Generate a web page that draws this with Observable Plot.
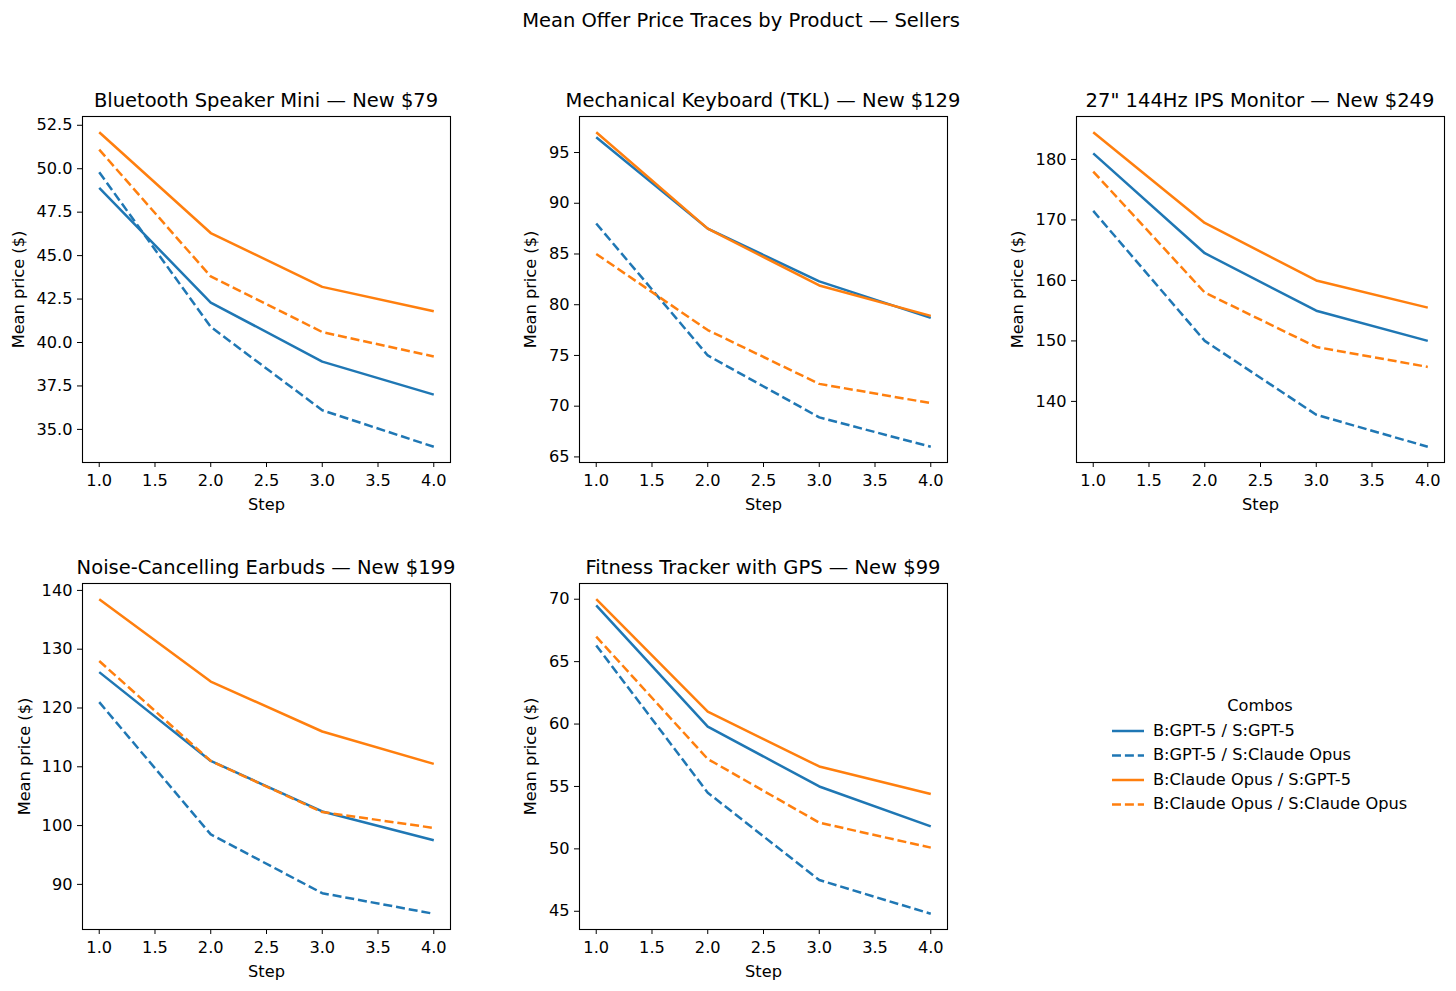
<!DOCTYPE html>
<html>
<head>
<meta charset="utf-8">
<script src="https://cdn.jsdelivr.net/npm/d3@7"></script>
<script src="https://cdn.jsdelivr.net/npm/@observablehq/plot@0.6"></script>
<style>
  body { margin: 0; background: #fff; font-family: "DejaVu Sans", sans-serif; }
  #fig { position: relative; width: 1456px; height: 991px; background: #fff; overflow: hidden; }
  .abs { position: absolute; }
  .ptitle { position: absolute; font-size: 19.5px; color: #000; white-space: nowrap; transform: translate(-50%, -50%); }
</style>
</head>
<body>
<div id="fig"></div>
<script>
// ---------- data ----------
const steps = [1, 2, 3, 4];
const combos = [
  "B:GPT-5 / S:GPT-5",
  "B:GPT-5 / S:Claude Opus",
  "B:Claude Opus / S:GPT-5",
  "B:Claude Opus / S:Claude Opus"
];
const comboColors = ["#1f77b4", "#1f77b4", "#ff7f0e", "#ff7f0e"];
const comboDashed = [false, true, false, true];

const productTitles = [
  "Bluetooth Speaker Mini — New $79",
  "Mechanical Keyboard (TKL) — New $129",
  "27\" 144Hz IPS Monitor — New $249",
  "Noise-Cancelling Earbuds — New $199",
  "Fitness Tracker with GPS — New $99"
];

// values per combo (order as in combos), per step
const speakerPrices = [
  [48.9, 42.3, 38.9, 37.0],
  [49.8, 40.9, 36.1, 34.0],
  [52.1, 46.3, 43.2, 41.8],
  [51.1, 43.8, 40.6, 39.2]
];
const keyboardPrices = [
  [96.5, 87.5, 82.3, 78.7],
  [88.0, 75.0, 68.9, 66.0],
  [97.0, 87.5, 81.9, 78.9],
  [85.0, 77.5, 72.2, 70.3]
];
const monitorPrices = [
  [181.0, 164.5, 155.0, 150.0],
  [171.5, 150.0, 137.8, 132.5],
  [184.5, 169.5, 160.0, 155.5],
  [178.0, 158.0, 149.0, 145.7]
];
const earbudsPrices = [
  [126.1, 111.0, 102.4, 97.5],
  [121.0, 98.5, 88.5, 85.0],
  [138.5, 124.5, 116.0, 110.5],
  [128.0, 111.0, 102.3, 99.6]
];
const trackerPrices = [
  [69.5, 59.8, 55.0, 51.8],
  [66.3, 54.5, 47.5, 44.8],
  [70.0, 61.0, 56.6, 54.4],
  [67.0, 57.2, 52.1, 50.1]
];

const xTicks = [1.0, 1.5, 2.0, 2.5, 3.0, 3.5, 4.0];
const speakerTicks = [35.0, 37.5, 40.0, 42.5, 45.0, 47.5, 50.0, 52.5];
const keyboardTicks = [65, 70, 75, 80, 85, 90, 95];
const monitorTicks = [140, 150, 160, 170, 180];
const earbudsTicks = [90, 100, 110, 120, 130, 140];
const trackerTicks = [45, 50, 55, 60, 65, 70];

// ---------- layout ----------
const panels = [
  {title: productTitles[0], prices: speakerPrices, ticks: speakerTicks, fmt: ".1f", left: 82, top: 116, yLab: 70},
  {title: productTitles[1], prices: keyboardPrices, ticks: keyboardTicks, fmt: "d", left: 579, top: 116, yLab: 55},
  {title: productTitles[2], prices: monitorPrices, ticks: monitorTicks, fmt: "d", left: 1076, top: 116, yLab: 65.5},
  {title: productTitles[3], prices: earbudsPrices, ticks: earbudsTicks, fmt: "d", left: 82, top: 583, yLab: 64},
  {title: productTitles[4], prices: trackerPrices, ticks: trackerTicks, fmt: "d", left: 579, top: 583, yLab: 55}
];
const W = 368, H = 346;
const mL = 82, mR = 10, mT = 8, mB = 62;
const FS = 16.2;

const fig = document.getElementById("fig");

const sup = document.createElement("div");
sup.className = "ptitle";
sup.style.left = "741px";
sup.style.top = "20px";
sup.textContent = "Mean Offer Price Traces by Product — Sellers";
fig.appendChild(sup);

function pad(ext) {
  const r = ext[1] - ext[0];
  return [ext[0] - 0.05 * r, ext[1] + 0.05 * r];
}

for (const p of panels) {
  const rows = [];
  p.prices.forEach((vals, ci) => vals.forEach((v, si) => rows.push({step: steps[si], price: v, combo: combos[ci]})));
  const yDomain = pad(d3.extent(rows, d => d.price));
  const xDomain = pad(d3.extent(steps));
  const marks = [];
  combos.forEach((c, ci) => {
    marks.push(Plot.line(rows.filter(d => d.combo === c), {
      x: "step", y: "price",
      stroke: comboColors[ci],
      strokeWidth: 2.5,
      strokeDasharray: comboDashed[ci] ? "9,3.9" : null,
      strokeLinecap: "butt",
      strokeLinejoin: "round"
    }));
  });
  marks.push(Plot.frame({stroke: "#000", strokeWidth: 1.1}));
  marks.push(Plot.axisX({ticks: xTicks, tickFormat: d3.format(".1f"), tickSize: 5, tickPadding: 7,
    label: "Step", labelAnchor: "center", labelArrow: "none", labelOffset: 47, fontSize: FS}));
  marks.push(Plot.axisY({ticks: p.ticks, tickFormat: d3.format(p.fmt), tickSize: 5, tickPadding: 5,
    label: "Mean price ($)", labelAnchor: "center", labelArrow: "none", labelOffset: p.yLab, fontSize: FS}));

  const chart = Plot.plot({
    width: W + mL + mR,
    height: H + mT + mB,
    marginLeft: mL, marginRight: mR, marginTop: mT, marginBottom: mB,
    x: {domain: xDomain},
    y: {domain: yDomain},
    style: {fontFamily: "DejaVu Sans", fontSize: FS + "px", color: "#000", background: "transparent", overflow: "visible"},
    marks
  });
  const holder = document.createElement("div");
  holder.className = "abs";
  holder.style.left = (p.left - mL) + "px";
  holder.style.top = (p.top - mT) + "px";
  holder.appendChild(chart);
  fig.appendChild(holder);

  const t = document.createElement("div");
  t.className = "ptitle";
  t.style.left = (p.left + W / 2) + "px";
  t.style.top = (p.top - 16) + "px";
  t.textContent = p.title;
  fig.appendChild(t);
}

// ---------- legend ----------
const ns = "http://www.w3.org/2000/svg";
const leg = document.createElementNS(ns, "svg");
leg.setAttribute("width", 350);
leg.setAttribute("height", 130);
leg.style.position = "absolute";
leg.style.left = "1100px";
leg.style.top = "690px";
leg.style.fontFamily = "DejaVu Sans";
leg.style.fontSize = FS + "px";
const lt = document.createElementNS(ns, "text");
lt.setAttribute("x", 160);
lt.setAttribute("y", 16);
lt.setAttribute("text-anchor", "middle");
lt.setAttribute("dominant-baseline", "middle");
lt.textContent = "Combos";
leg.appendChild(lt);
combos.forEach((c, i) => {
  const y = 41 + i * 24.5;
  const ln = document.createElementNS(ns, "line");
  ln.setAttribute("x1", 12); ln.setAttribute("x2", 44);
  ln.setAttribute("y1", y); ln.setAttribute("y2", y);
  ln.setAttribute("stroke", comboColors[i]);
  ln.setAttribute("stroke-width", 2.5);
  if (comboDashed[i]) ln.setAttribute("stroke-dasharray", "9,3.9");
  leg.appendChild(ln);
  const tx = document.createElementNS(ns, "text");
  tx.setAttribute("x", 53);
  tx.setAttribute("y", y);
  tx.setAttribute("dominant-baseline", "middle");
  tx.textContent = c;
  leg.appendChild(tx);
});
fig.appendChild(leg);
</script>
</body>
</html>
